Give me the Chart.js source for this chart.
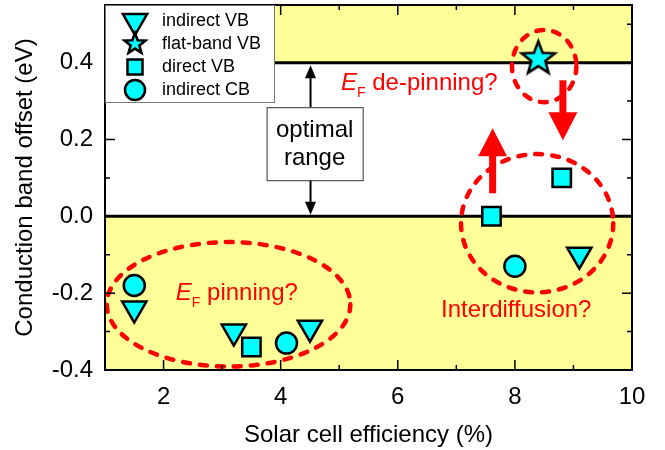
<!DOCTYPE html>
<html>
<head>
<meta charset="utf-8">
<script src="https://cdn.jsdelivr.net/npm/chart.js@4.4.1/dist/chart.umd.min.js"></script>
<style>
  html, body { margin: 0; padding: 0; background: #fff; }
  #wrap { width: 665px; height: 450px; }
</style>
</head>
<body>
<div id="wrap"><canvas id="chart" width="665" height="450"></canvas></div>
<script>
// efficiency (%) vs conduction band offset (eV)
const indirectVB_x = [1.5, 3.2, 4.5, 9.1];
const indirectVB_y = [-0.24, -0.30, -0.29, -0.10];
const flatVB_x = [8.4];
const flatVB_y = [0.41];
const directVB_x = [3.5, 7.6, 8.8];
const directVB_y = [-0.34, 0.00, 0.10];
const indirectCB_x = [1.5, 4.1, 8.0];
const indirectCB_y = [-0.18, -0.33, -0.13];

const seriesNames = ["indirect VB", "flat-band VB", "direct VB", "indirect CB"];
const xTicks = [2, 4, 6, 8, 10];
const xMinor = [1, 3, 5, 7, 9];
const yTicks = [-0.4, -0.2, 0.0, 0.2, 0.4];
const yMinor = [-0.3, -0.1, 0.1, 0.3, 0.5];
const bandEdges = [0.0, 0.4];   // limits of the optimal range

const FONT = "'Liberation Sans', Arial, sans-serif";
const CYAN = '#00ffff';
const YELLOW = '#ffff99';
const RED = '#ff0000';

function pts(xs, ys) { return xs.map((x, i) => ({ x: x, y: ys[i] })); }

function makeStar(R) {
  const s = Math.ceil(R * 2 + 6);
  const c = document.createElement('canvas');
  c.width = s; c.height = s;
  const g = c.getContext('2d');
  g.beginPath();
  for (let i = 0; i < 10; i++) {
    const r = i % 2 ? R * 0.42 : R;
    const a = -Math.PI / 2 + i * Math.PI / 5;
    const px = s / 2 + r * Math.cos(a), py = s / 2 + r * Math.sin(a);
    if (i === 0) g.moveTo(px, py); else g.lineTo(px, py);
  }
  g.closePath();
  g.fillStyle = CYAN; g.fill();
  g.lineWidth = 2.5; g.lineJoin = 'miter'; g.strokeStyle = '#000'; g.stroke();
  return c;
}
const starBig = makeStar(17.5);
const starSmall = makeStar(11);

// annotation shapes, in data units
const ellipses = [
  { cx: 3.11, cy: -0.229, rx: 2.08, ry: 0.162 },
  { cx: 8.50, cy: 0.391, rx: 0.55, ry: 0.094 },
  { cx: 8.38, cy: -0.018, rx: 1.30, ry: 0.180 }
];
const redArrows = [
  { x: 7.62, y0: 0.06, y1: 0.229 },
  { x: 8.82, y0: 0.354, y1: 0.198 }
];

function arrow(ctx, x, y0, y1, shaft, headW, headL, color) {
  const dir = y1 > y0 ? 1 : -1;
  const yb = y1 - dir * headL;
  ctx.save();
  ctx.strokeStyle = color; ctx.fillStyle = color;
  ctx.lineWidth = shaft; ctx.lineCap = 'butt';
  ctx.beginPath(); ctx.moveTo(x, y0); ctx.lineTo(x, yb + dir); ctx.stroke();
  ctx.beginPath();
  ctx.moveTo(x, y1); ctx.lineTo(x - headW / 2, yb); ctx.lineTo(x + headW / 2, yb);
  ctx.closePath(); ctx.fill();
  ctx.restore();
}

function subText(ctx, x, y, rest, size, color) {
  ctx.save();
  ctx.fillStyle = color; ctx.textBaseline = 'alphabetic'; ctx.textAlign = 'left';
  ctx.font = 'italic ' + size + 'px ' + FONT;
  ctx.fillText('E', x, y);
  let w = ctx.measureText('E').width;
  ctx.font = Math.round(size * 0.6) + 'px ' + FONT;
  ctx.fillText('F', x + w, y + 7);
  w += ctx.measureText('F').width;
  ctx.font = size + 'px ' + FONT;
  ctx.fillText(rest, x + w, y);
  ctx.restore();
}

function legendMarker(ctx, kind, x, y) {
  ctx.save();
  ctx.fillStyle = CYAN; ctx.strokeStyle = '#000'; ctx.lineWidth = 2.5;
  ctx.beginPath();
  if (kind === 0) {
    const r = 14;
    ctx.moveTo(x, y + r);
    ctx.lineTo(x - r * Math.sin(Math.PI / 3), y - r / 2);
    ctx.lineTo(x + r * Math.sin(Math.PI / 3), y - r / 2);
    ctx.closePath();
  } else if (kind === 1) {
    ctx.restore();
    ctx.drawImage(starSmall, x - starSmall.width / 2, y - starSmall.height / 2);
    return;
  } else if (kind === 2) {
    ctx.rect(x - 7.5, y - 7.5, 15, 15);
  } else {
    ctx.arc(x, y, 10, 0, Math.PI * 2);
  }
  ctx.fill(); ctx.stroke();
  ctx.restore();
}

const decor = {
  id: 'decor',
  beforeDatasetsDraw(chart) {
    const ctx = chart.ctx, a = chart.chartArea;
    const sx = chart.scales.x, sy = chart.scales.y;
    ctx.save();
    // yellow bands outside the optimal range
    ctx.fillStyle = YELLOW;
    const yTop = sy.getPixelForValue(bandEdges[1]);
    const yZero = sy.getPixelForValue(bandEdges[0]);
    ctx.fillRect(a.left, a.top, a.right - a.left, yTop - a.top);
    ctx.fillRect(a.left, yZero, a.right - a.left, a.bottom - yZero);
    // limits
    ctx.strokeStyle = '#000'; ctx.lineWidth = 3;
    bandEdges.forEach(v => {
      const py = sy.getPixelForValue(v);
      ctx.beginPath(); ctx.moveTo(a.left, py); ctx.lineTo(a.right, py); ctx.stroke();
    });
    // black arrows and optimal range box
    const ax = sx.getPixelForValue(4.51);
    arrow(ctx, ax, sy.getPixelForValue(0.284), sy.getPixelForValue(0.393), 2, 11, 13, '#000');
    arrow(ctx, ax, sy.getPixelForValue(0.094), sy.getPixelForValue(0.004), 2, 11, 13, '#000');
    const bx0 = sx.getPixelForValue(3.76), bx1 = sx.getPixelForValue(5.40);
    const by0 = sy.getPixelForValue(0.284), by1 = sy.getPixelForValue(0.094);
    ctx.fillStyle = '#fff'; ctx.fillRect(bx0, by0, bx1 - bx0, by1 - by0);
    ctx.strokeStyle = '#333'; ctx.lineWidth = 1;
    ctx.strokeRect(bx0 + 0.5, by0 + 0.5, bx1 - bx0, by1 - by0);
    ctx.fillStyle = '#000'; ctx.font = '24px ' + FONT; ctx.textAlign = 'center';
    ctx.fillText('optimal', (bx0 + bx1) / 2, sy.getPixelForValue(0.207));
    ctx.fillText('range', (bx0 + bx1) / 2, sy.getPixelForValue(0.133));
    // dashed ellipses
    ctx.strokeStyle = RED; ctx.lineWidth = 4.5; ctx.lineCap = 'round';
    ctx.setLineDash([7, 10]);
    ellipses.forEach(e => {
      const cx = sx.getPixelForValue(e.cx), cy = sy.getPixelForValue(e.cy);
      const rx = sx.getPixelForValue(e.cx + e.rx) - cx;
      const ry = cy - sy.getPixelForValue(e.cy + e.ry);
      ctx.beginPath(); ctx.ellipse(cx, cy, rx, ry, 0, 0, Math.PI * 2); ctx.stroke();
    });
    ctx.setLineDash([]);
    redArrows.forEach(r => {
      arrow(ctx, sx.getPixelForValue(r.x), sy.getPixelForValue(r.y0), sy.getPixelForValue(r.y1), 7, 29, 28, RED);
    });
    // red labels
    subText(ctx, sx.getPixelForValue(5.03), sy.getPixelForValue(0.328), ' de-pinning?', 24, RED);
    subText(ctx, sx.getPixelForValue(2.21), sy.getPixelForValue(-0.219), ' pinning?', 24, RED);
    ctx.fillStyle = RED; ctx.font = '24px ' + FONT; ctx.textAlign = 'left';
    ctx.fillText('Interdiffusion?', sx.getPixelForValue(6.74), sy.getPixelForValue(-0.263));
    ctx.restore();
  },
  afterDatasetsDraw(chart) {
    const ctx = chart.ctx, a = chart.chartArea;
    const sx = chart.scales.x, sy = chart.scales.y;
    ctx.save();
    ctx.strokeStyle = '#000'; ctx.lineWidth = 2;
    ctx.strokeRect(a.left, a.top, a.right - a.left, a.bottom - a.top);
    ctx.lineWidth = 1.5;
    const tick = (vals, len) => {
      vals.forEach(v => {
        const px = sx.getPixelForValue(v);
        ctx.beginPath();
        ctx.moveTo(px, a.bottom); ctx.lineTo(px, a.bottom - len);
        ctx.moveTo(px, a.top); ctx.lineTo(px, a.top + len);
        ctx.stroke();
      });
    };
    const tickY = (vals, len) => {
      vals.forEach(v => {
        const py = sy.getPixelForValue(v);
        ctx.beginPath();
        ctx.moveTo(a.left, py); ctx.lineTo(a.left + len, py);
        ctx.moveTo(a.right, py); ctx.lineTo(a.right - len, py);
        ctx.stroke();
      });
    };
    tick(xTicks, 10); tick(xMinor, 5);
    tickY(yTicks, 10); tickY(yMinor, 5);
    // legend box
    const lx = a.left, ly = a.top, lw = 169, lh = 97;
    ctx.fillStyle = '#fff'; ctx.fillRect(lx, ly, lw, lh);
    ctx.strokeStyle = '#777'; ctx.lineWidth = 1;
    ctx.strokeRect(lx + 0.5, ly + 0.5, lw, lh);
    ctx.font = '18px ' + FONT; ctx.textBaseline = 'middle'; ctx.textAlign = 'left';
    seriesNames.forEach((n, i) => {
      const yy = ly + 16 + i * 23;
      legendMarker(ctx, i, lx + 30, yy);
      ctx.fillStyle = '#000';
      ctx.fillText(n, lx + 57, yy);
    });
    ctx.restore();
  }
};

const base = { backgroundColor: CYAN, borderColor: '#000', borderWidth: 2.5 };

new Chart(document.getElementById('chart'), {
  type: 'scatter',
  data: {
    datasets: [
      Object.assign({ label: seriesNames[0], data: pts(indirectVB_x, indirectVB_y), pointStyle: 'triangle', rotation: 180, pointRadius: 14 }, base),
      Object.assign({ label: seriesNames[1], data: pts(flatVB_x, flatVB_y), pointStyle: starBig, pointRadius: 18 }, base),
      Object.assign({ label: seriesNames[2], data: pts(directVB_x, directVB_y), pointStyle: 'rect', pointRadius: 13 }, base),
      Object.assign({ label: seriesNames[3], data: pts(indirectCB_x, indirectCB_y), pointStyle: 'circle', pointRadius: 10.5 }, base)
    ]
  },
  options: {
    responsive: false,
    animation: false,
    devicePixelRatio: 1,
    layout: { autoPadding: false, padding: { top: 5, right: 33, left: 0, bottom: 0 } },
    plugins: { legend: { display: false }, tooltip: { enabled: false } },
    scales: {
      x: {
        type: 'linear', min: 1, max: 10,
        grid: { display: false, drawTicks: false },
        border: { display: false },
        afterBuildTicks: s => { s.ticks = xTicks.map(v => ({ value: v })); },
        afterFit: s => { s.height = 80; s.paddingLeft = 0; s.paddingRight = 0; },
        ticks: { font: { family: FONT, size: 24 }, color: '#000', padding: 13, maxRotation: 0, autoSkip: false,
                 callback: v => String(v) },
        title: { display: true, text: 'Solar cell efficiency (%)', color: '#000',
                 font: { family: FONT, size: 24 }, padding: { top: 0, bottom: 0 } }
      },
      y: {
        type: 'linear', min: -0.4, max: 0.55,
        grid: { display: false, drawTicks: false },
        border: { display: false },
        afterBuildTicks: s => { s.ticks = yTicks.map(v => ({ value: v })); },
        afterFit: s => { s.width = 105; s.paddingTop = 0; s.paddingBottom = 0; },
        ticks: { font: { family: FONT, size: 24 }, color: '#000', padding: 12, autoSkip: false,
                 callback: v => v.toFixed(1) },
        title: { display: true, text: 'Conduction band offset (eV)', color: '#000',
                 font: { family: FONT, size: 24 }, padding: { top: 11, bottom: 0 } }
      }
    }
  },
  plugins: [decor]
});
</script>
</body>
</html>
